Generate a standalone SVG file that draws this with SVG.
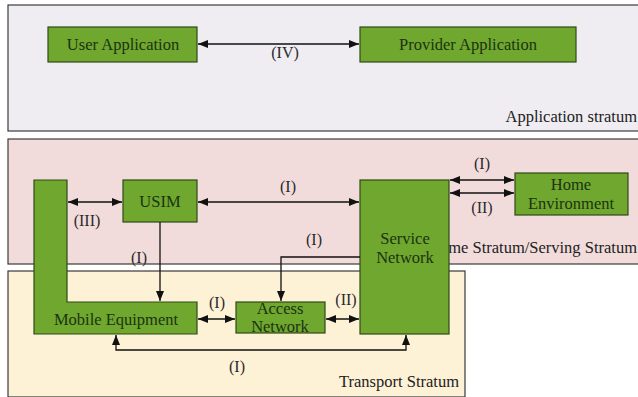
<svg xmlns="http://www.w3.org/2000/svg" width="638" height="397" viewBox="0 0 638 397">
  <defs>
    <marker id="arrow" viewBox="0 0 10 8" refX="10" refY="4" markerWidth="10" markerHeight="8" markerUnits="userSpaceOnUse" orient="auto-start-reverse">
      <path d="M0,0 L10,4 L0,8 Z" fill="#111"/>
    </marker>
    <style>
      .stratum { stroke: #3a3a3a; stroke-width: 1.2; }
      .node { fill: #6fa72f; stroke: #2f4a16; stroke-width: 1.2; }
      .ntext { font-family: "Liberation Serif", "Times New Roman", serif; font-size: 16.5px; fill: #1c3310; text-anchor: middle; }
      .label { font-family: "Liberation Serif", "Times New Roman", serif; font-size: 16px; fill: #2a2a2a; text-anchor: middle; }
      .stext { font-family: "Liberation Serif", "Times New Roman", serif; font-size: 16.5px; fill: #222; text-anchor: end; }
      .conn { fill: none; stroke: #111; stroke-width: 1.3; }
    </style>
  </defs>

  <rect width="638" height="397" fill="#ffffff"/>

  <!-- strata -->
  <g id="application-stratum">
    <rect class="stratum" x="8" y="5" width="632" height="126" fill="#efedf2"/>
    <text class="stext" x="637" y="122">Application stratum</text>
  </g>
  <g id="home-stratum">
    <rect class="stratum" x="8" y="139" width="632" height="125" fill="#f2dcdb"/>
    <text class="stext" x="637" y="253">Home Stratum/Serving Stratum</text>
  </g>
  <g id="transport-stratum">
    <rect class="stratum" x="8" y="271" width="457" height="126" fill="#fdf1d6"/>
    <text class="stext" x="459" y="387">Transport Stratum</text>
  </g>

  <!-- nodes -->
  <g id="user-application">
    <rect class="node" x="48" y="27" width="149" height="35"/>
    <text class="ntext" x="123" y="50">User Application</text>
  </g>
  <g id="provider-application">
    <rect class="node" x="360" y="27" width="216" height="35"/>
    <text class="ntext" x="468" y="50">Provider Application</text>
  </g>
  <g id="mobile-equipment">
    <path class="node" d="M34,180 H67 V302 H197 V334 H34 Z"/>
    <text class="ntext" x="116" y="325">Mobile Equipment</text>
  </g>
  <g id="usim">
    <rect class="node" x="123" y="180" width="74" height="42"/>
    <text class="ntext" x="160" y="207">USIM</text>
  </g>
  <g id="service-network">
    <rect class="node" x="360" y="180" width="89" height="154"/>
    <text class="ntext" x="405" y="244">Service</text>
    <text class="ntext" x="405" y="263">Network</text>
  </g>
  <g id="home-environment">
    <rect class="node" x="515" y="173" width="113" height="42"/>
    <text class="ntext" x="571" y="190">Home</text>
    <text class="ntext" x="571" y="209">Environment</text>
  </g>
  <g id="access-network">
    <rect class="node" x="236" y="302" width="89" height="31"/>
    <text class="ntext" x="280" y="314">Access</text>
    <text class="ntext" x="280" y="332">Network</text>
  </g>

  <!-- connectors -->
  <g id="connectors">
    <line class="conn" x1="198" y1="44" x2="359" y2="44" marker-start="url(#arrow)" marker-end="url(#arrow)"/>
    <line class="conn" x1="68" y1="202" x2="122" y2="202" marker-start="url(#arrow)" marker-end="url(#arrow)"/>
    <line class="conn" x1="198" y1="202" x2="359" y2="202" marker-start="url(#arrow)" marker-end="url(#arrow)"/>
    <line class="conn" x1="450" y1="180" x2="514" y2="180" marker-start="url(#arrow)" marker-end="url(#arrow)"/>
    <line class="conn" x1="450" y1="193" x2="514" y2="193" marker-start="url(#arrow)" marker-end="url(#arrow)"/>
    <line class="conn" x1="160" y1="222" x2="160" y2="301" marker-end="url(#arrow)"/>
    <path class="conn" d="M360,257 H281 V301" marker-end="url(#arrow)"/>
    <line class="conn" x1="198" y1="319" x2="235" y2="319" marker-start="url(#arrow)" marker-end="url(#arrow)"/>
    <line class="conn" x1="326" y1="319" x2="359" y2="319" marker-start="url(#arrow)" marker-end="url(#arrow)"/>
    <path class="conn" d="M116,335 V350 H406 V335" marker-start="url(#arrow)" marker-end="url(#arrow)"/>

    <text class="label" x="285" y="58">(IV)</text>
    <text class="label" x="87" y="226">(III)</text>
    <text class="label" x="288" y="192">(I)</text>
    <text class="label" x="482" y="169">(I)</text>
    <text class="label" x="482" y="213">(II)</text>
    <text class="label" x="139" y="263">(I)</text>
    <text class="label" x="314" y="245">(I)</text>
    <text class="label" x="217" y="308">(I)</text>
    <text class="label" x="346" y="305">(II)</text>
    <text class="label" x="237" y="372">(I)</text>
  </g>
</svg>
